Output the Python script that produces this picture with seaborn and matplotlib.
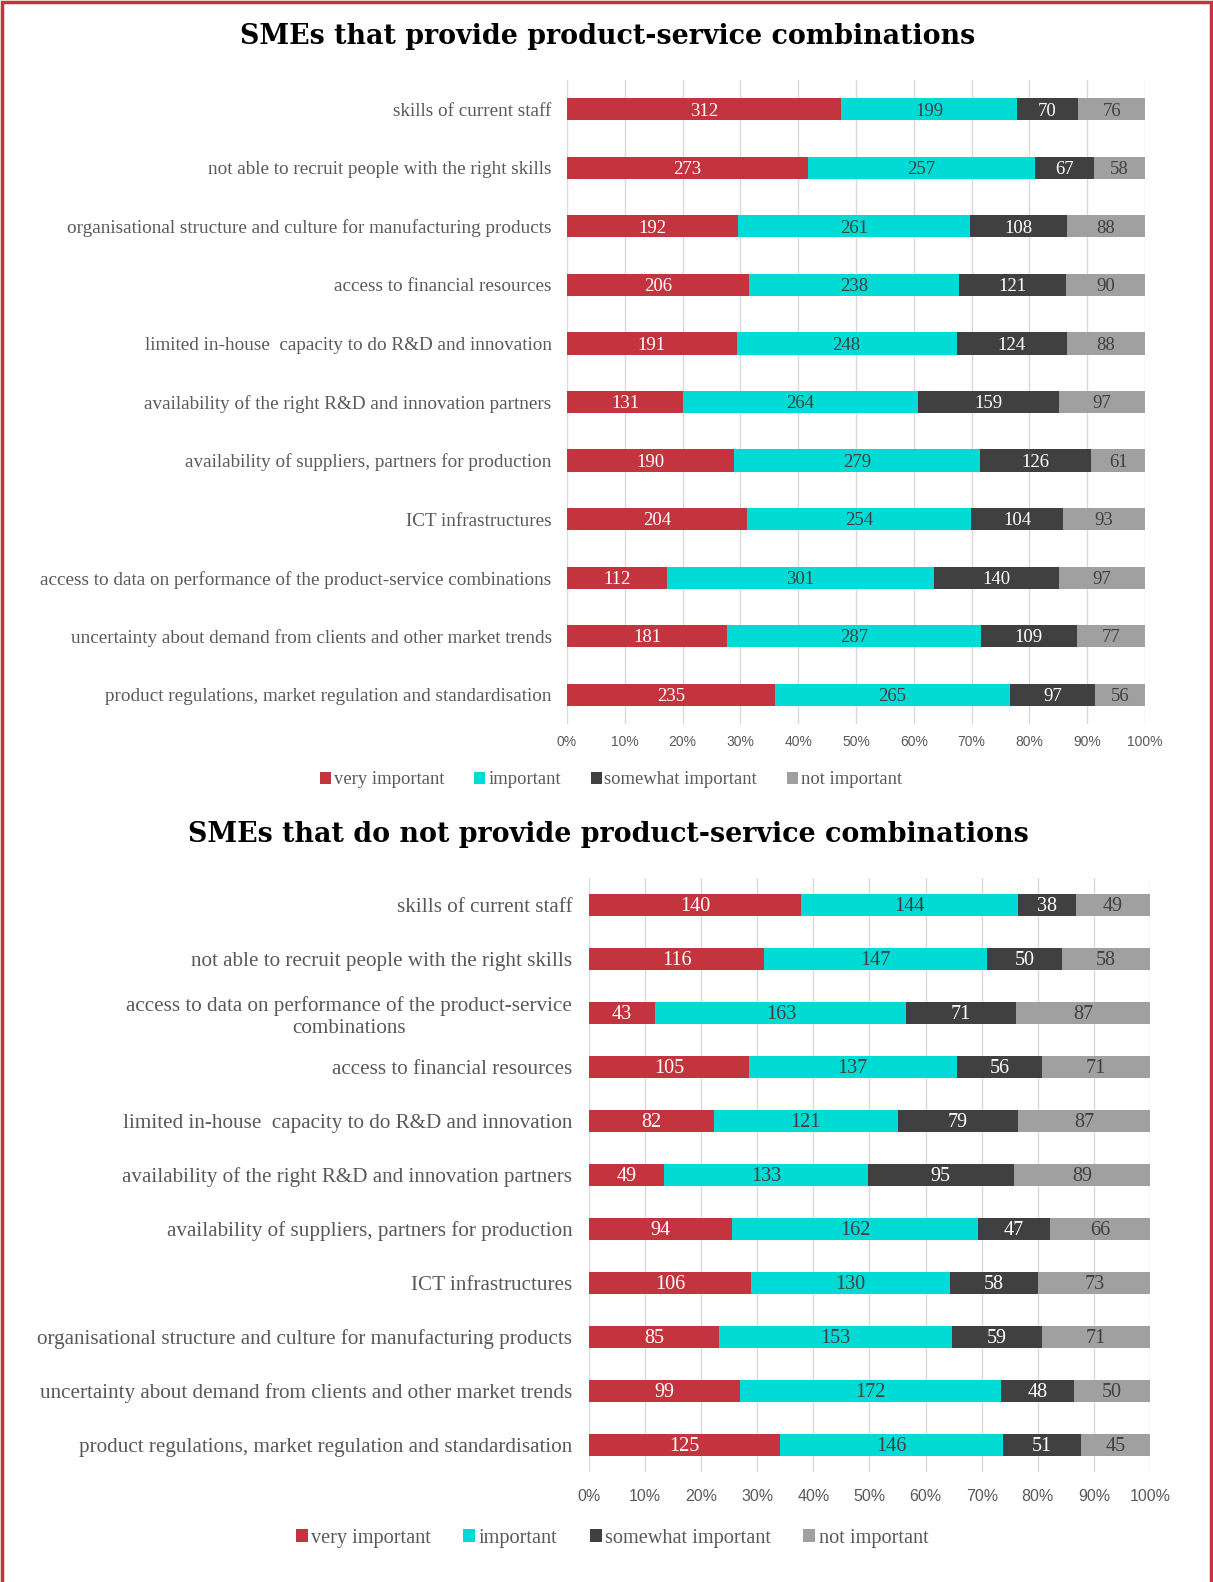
import matplotlib
matplotlib.use("Agg")
import matplotlib.pyplot as plt
from matplotlib.lines import Line2D
from matplotlib.patches import Patch
import seaborn as sns
import pandas as pd

# ---- data -------------------------------------------------------------
levels = ["very important", "important", "somewhat important", "not important"]

top_categories = [
    "skills of current staff",
    "not able to recruit people with the right skills",
    "organisational structure and culture for manufacturing products",
    "access to financial resources",
    "limited in-house  capacity to do R&D and innovation",
    "availability of the right R&D and innovation partners",
    "availability of suppliers, partners for production",
    "ICT infrastructures",
    "access to data on performance of the product-service combinations",
    "uncertainty about demand from clients and other market trends",
    "product regulations, market regulation and standardisation",
]
top_very = [312, 273, 192, 206, 191, 131, 190, 204, 112, 181, 235]
top_important = [199, 257, 261, 238, 248, 264, 279, 254, 301, 287, 265]
top_somewhat = [70, 67, 108, 121, 124, 159, 126, 104, 140, 109, 97]
top_not = [76, 58, 88, 90, 88, 97, 61, 93, 97, 77, 56]

bottom_categories = [
    "skills of current staff",
    "not able to recruit people with the right skills",
    "access to data on performance of the product-service\ncombinations",
    "access to financial resources",
    "limited in-house  capacity to do R&D and innovation",
    "availability of the right R&D and innovation partners",
    "availability of suppliers, partners for production",
    "ICT infrastructures",
    "organisational structure and culture for manufacturing products",
    "uncertainty about demand from clients and other market trends",
    "product regulations, market regulation and standardisation",
]
bottom_very = [140, 116, 43, 105, 82, 49, 94, 106, 85, 99, 125]
bottom_important = [144, 147, 163, 137, 121, 133, 162, 130, 153, 172, 146]
bottom_somewhat = [38, 50, 71, 56, 79, 95, 47, 58, 59, 48, 51]
bottom_not = [49, 58, 87, 71, 87, 89, 66, 73, 71, 50, 45]

x_ticks = list(range(0, 101, 10))
x_tick_labels = [f"{t}%" for t in x_ticks]

# ---- style ------------------------------------------------------------
colors = ["#C4343F", "#00DCD5", "#404040", "#A0A0A0"]
value_colors = ["white", "#404040", "white", "#404040"]
label_grey = "#595959"
border_red = "#C4343F"
SERIF = ["Liberation Serif", "DejaVu Serif"]
SANS = ["Liberation Sans", "DejaVu Sans"]

sns.set_theme(style="white")
plt.rcParams["font.family"] = SERIF

W, H = 1213, 1582
fig = plt.figure(figsize=(W / 100, H / 100), dpi=100)


def axes_px(left, top, right, bottom):
    return fig.add_axes([left / W, 1 - bottom / H, (right - left) / W, (bottom - top) / H])


def stacked_panel(ax, cats, series, bar_w, label_fs, value_fs, pad, tick_fs, tick_pad):
    df = pd.DataFrame({lvl: vals for lvl, vals in zip(levels, series)})
    counts = df[levels]
    pct = counts.div(counts.sum(axis=1), axis=0) * 100
    cum = pct.cumsum(axis=1)
    plot_df = cum.copy()
    plot_df["category"] = cats

    # overlapping cumulative bars give the stacked look
    for i in reversed(range(len(levels))):
        sns.barplot(data=plot_df, x=levels[i], y="category", order=cats,
                    orient="h", color=colors[i], saturation=1, width=bar_w,
                    linewidth=0, ax=ax)

    for row in range(len(cats)):
        for i, lvl in enumerate(levels):
            center = cum.iloc[row, i] - pct.iloc[row, i] / 2
            ax.text(center, row + 0.03, f"{counts.iloc[row, i]}", ha="center", va="center",
                    color=value_colors[i], fontsize=value_fs, family=SERIF)

    ax.set_xlim(0, 100)
    ax.set_ylim(len(cats) - 0.5, -0.5)
    ax.set_xticks(x_ticks)
    ax.set_xticklabels(x_tick_labels, family=SANS, color=label_grey, fontsize=tick_fs)
    ax.set_xlabel("")
    ax.set_ylabel("")
    for v in x_ticks:
        ax.axvline(v, color="#D9D9D9", lw=1, zorder=0)
    ax.set_axisbelow(True)
    for s in ax.spines.values():
        s.set_visible(False)
    ax.tick_params(axis="x", length=0, pad=tick_pad)
    ax.tick_params(axis="y", length=0, pad=pad)
    for t in ax.get_yticklabels():
        t.set_fontsize(label_fs)
        t.set_color(label_grey)
        t.set_family(SERIF)
        t.set_multialignment("center")


def add_legend(cx, cy, fs):
    handles = [Patch(facecolor=c, edgecolor="none", label=l) for c, l in zip(colors, levels)]
    leg = fig.legend(handles=handles, loc="center", bbox_to_anchor=(cx / W, 1 - cy / H),
                     ncol=4, frameon=False, fontsize=fs, handlelength=0.6, handleheight=0.6,
                     handletextpad=0.15, columnspacing=1.6)
    for t in leg.get_texts():
        t.set_color(label_grey)
        t.set_family(SERIF)


# ---- top panel --------------------------------------------------------
ax1 = axes_px(567, 80, 1145, 724)
stacked_panel(ax1, top_categories, [top_very, top_important, top_somewhat, top_not],
              bar_w=0.38, label_fs=13.8, value_fs=13.5, pad=11, tick_fs=10, tick_pad=8)
fig.text(608 / W, 1 - 37 / H, "SMEs that provide product-service combinations",
         ha="center", va="center", fontsize=19.4, fontweight="bold", color="black",
         family=["DejaVu Serif"])
add_legend(611, 780, 13.4)

# ---- bottom panel -----------------------------------------------------
ax2 = axes_px(589, 878, 1150, 1472)
stacked_panel(ax2, bottom_categories,
              [bottom_very, bottom_important, bottom_somewhat, bottom_not],
              bar_w=0.41, label_fs=15.2, value_fs=14.5, pad=12, tick_fs=11.5, tick_pad=12)
fig.text(608 / W, 1 - 835 / H, "SMEs that do not provide product-service combinations",
         ha="center", va="center", fontsize=19.4, fontweight="bold", color="black",
         family=["DejaVu Serif"])
add_legend(612, 1538, 14.6)

# ---- frame ------------------------------------------------------------
x0, x1, y1 = 2 / W, 1 - 2 / W, 1 - 1.5 / H
fig.add_artist(Line2D([x0, x0, x1, x1], [0, y1, y1, 0], transform=fig.transFigure,
                      color=border_red, lw=2.5, solid_joinstyle="miter"))

fig.savefig("out.png", dpi=100, facecolor="white")
